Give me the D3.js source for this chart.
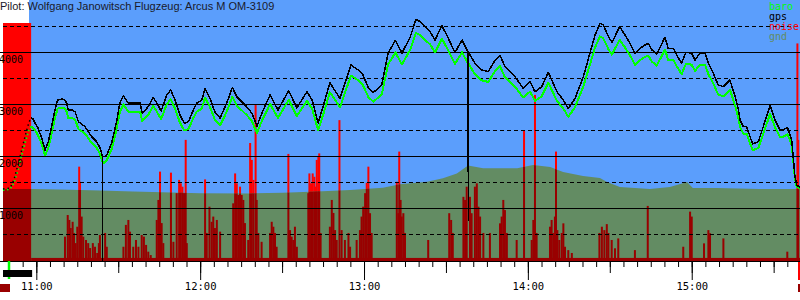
<!DOCTYPE html>
<html><head><meta charset="utf-8">
<script src="https://cdn.jsdelivr.net/npm/d3@7/dist/d3.min.js"></script>
<style>body{margin:0;background:#fff;} svg{display:block;}</style>
</head><body><svg id="c" width="800" height="300"></svg>
<script>
const title = "Pilot: Wolfgang Janowitsch Flugzeug: Arcus M OM-3109";
const legendNames = ["baro", "gps", "noise", "gnd"];
const yTicks = [1000, 2000, 3000, 4000];
const yHalfTicks = [500, 1500, 2500, 3500, 4500];
const launchT = -1.9;      // minutes after 11:00
const markerT = -10;       // 10:50 marker
const noiseFloor = 8;

// minutes after 11:00
const flightT = [-12.2,-9.6,-8.2,-6.7,-5.2,-3.8,-2.7,-1.9,
-1.2,-0.5,0.6,2.0,3.2,4.4,5.6,6.8,7.8,9.4,
10.5,11.1,11.7,13.0,14.2,15.4,17.8,20.3,22.1,23.3,
24.2,24.25,24.3,24.8,25.8,27.6,29.4,30.6,31.9,33.7,
36.1,38.0,38.8,41.0,42.8,44.1,45.7,47.8,49.2,50.8,
52.6,54.2,55.7,57.5,58.7,60.6,61.8,63.6,65.4,67.3,
69.7,71.8,73.4,75.2,77.0,78.9,80.8,82.6,85.6,88.5,
92.4,95.4,99.1,101.0,103.2,105.4,107.5,111.2,115.2,117.9,
119.6,121.6,123.4,126.5,128.8,131.5,133.9,136.9,139.0,140.5,
142.3,144.2,146.0,148.5,150.3,153.3,155.9,158.1,158.2,158.3,
160.6,163.1,165.5,168.0,169.8,171.6,175.3,178.3,180.8,182.6,
185.1,187.5,190.6,193.0,194.8,197.3,200.3,202.8,204.6,206.4,
207.6,209.5,210.8,213.6,215.6,217.4,219.2,221.1,222.9,224.1,
225.4,227.2,230.2,231.4,233.3,234.5,236.3,237.9,240.0,241.2,
243.0,244.9,246.1,247.9,249.7,251.6,254.0,255.9,257.1,257.7,
258.9,260.1,262.3,264.4,266.2,268.7,270.5,272.3,273.5,275.1,
276.6,277.2,277.8,278.5,279.6];

const gpsAlt = [1365,1385,1540,1830,2150,2440,2650,2730,
2710,2635,2540,2345,2115,2275,2565,2885,3075,3095,
3075,3020,2885,2885,2850,2660,2565,2370,2275,2155,
2000,0,1995,1985,2020,2250,2660,3020,3160,3015,
3015,3020,2820,2950,3130,3020,2865,3175,3270,3075,
2790,2630,2660,2885,3015,3075,3300,3110,2845,2730,
3015,3320,3140,3045,2950,2825,2575,2825,3175,2885,
3255,2925,3235,3075,2635,3020,3410,3105,3750,3655,
3560,3310,3220,3365,3980,4225,3980,4285,4625,4585,
4485,4390,4230,4505,4325,3990,4230,4000,770,3990,
3785,3655,3620,3845,3940,3715,3525,3300,3430,3235,
3335,3610,3240,3075,2910,3110,3525,3990,4325,4550,
4520,4295,4185,4485,4325,4165,3975,4070,4135,4165,
4040,3960,4285,4070,4070,3940,3785,3995,3975,3845,
3975,3975,3785,3590,3365,3335,3460,3140,2885,2690,
2565,2565,2230,2275,2565,2970,2690,2500,2500,2550,
2310,1960,1600,1440,1395];

const baroAlt = [1345,1365,1480,1740,2050,2320,2510,2565,
2540,2495,2405,2225,2010,2155,2430,2730,2910,2930,
2910,2855,2730,2730,2700,2520,2430,2250,2155,2045,
1900,1895,1890,1870,1915,2135,2520,2855,2990,2850,
2850,2855,2670,2790,2960,2855,2710,3000,3090,2910,
2640,2490,2520,2730,2850,2910,3125,2940,2695,2585,
2850,3140,2970,2880,2790,2675,2440,2675,3000,2730,
3080,2765,3060,2910,2495,2855,3225,2940,3545,3455,
3365,3130,3045,3180,3760,3990,3760,4045,4365,4325,
4235,4145,3995,4255,4085,3770,3995,3780,3775,3770,
3575,3455,3425,3635,3725,3515,3335,3125,3240,3060,
3150,3410,3065,2910,2755,2940,3335,3770,4085,4300,
4265,4055,3950,4235,4085,3935,3755,3845,3905,3930,
3815,3740,4045,3845,3845,3725,3575,3775,3755,3635,
3755,3755,3575,3395,3180,3150,3270,2970,2730,2550,
2430,2430,2110,2155,2430,2810,2550,2370,2370,2420,
2210,1900,1560,1400,1385];

const gndT = [-12.2,-1.9,8.7,23.3,35.4,59.9,78.3,90.3,102.8,114.9,126.9,133.2,143.1,148.9,154.0,158.1,163.6,176.1,181.9,188.2,192.9,200.2,206.4,209.0,213.7,224.7,232.0,238.3,240.4,249.2,264.9,279.65];
const gndAlt = [1365,1365,1355,1335,1315,1285,1280,1295,1315,1345,1390,1455,1505,1570,1665,1815,1765,1765,1825,1790,1690,1615,1575,1500,1405,1365,1405,1500,1385,1385,1365,1365];

const noiseT = [10.5,11.5,12.1,12.6,13.3,13.8,14.4,15.0,15.7,16.0,16.6,17.2,18.2,19.0,19.7,20.7,21.5,22.3,22.9,23.3,25.2,25.8,
31.9,32.8,33.7,34.3,35.5,36.5,37.4,38.6,39.4,40.2,41.0,41.9,
44.1,44.7,45.3,45.9,46.5,
49.3,50.2,51.4,52.3,52.9,53.5,54.1,54.7,55.1,
61.8,62.4,63.4,64.2,64.8,65.4,66.1,67.3,
72.1,72.8,73.4,74.0,74.6,75.2,75.8,76.4,77.6,
78.3,78.9,79.5,80.3,80.7,81.3,82.5,
85.6,86.2,86.8,87.4,88.0,
92.3,92.9,93.5,94.1,94.7,95.4,
99.6,100.0,100.6,101.2,101.8,102.3,102.7,103.3,103.6,104.1,
107.5,108.2,108.8,109.4,110.0,111.0,111.8,113.0,114.3,114.9,
117.3,118.5,119.1,119.7,120.4,121.0,121.6,122.2,122.8,
132.0,132.6,132.9,133.4,133.8,134.4,135.0,
143.5,151.2,151.9,152.5,
156.4,157.0,157.6,158.8,159.4,160.6,161.3,161.9,162.5,163.7,
166.1,169.8,170.4,171.0,171.6,172.3,
175.9,178.6,181.4,182.0,182.6,183.2,
188.1,188.7,189.3,189.9,190.3,190.8,191.5,192.4,193.0,193.6,194.8,196.1,
206.2,207.1,208.0,208.9,209.5,210.7,211.9,213.1,
219.2,223.9,236.9,239.4,240.0,244.5,246.1,246.7,251.6,275.0,278.7,279.0];
const noiseVal = [90,173,154,123,147,104,65,128,359,301,167,90,77,65,46,65,51,27,65,96,104,51,
51,135,154,109,51,77,51,96,90,58,32,19,
154,231,340,142,65,
336,70,257,308,295,282,257,462,65,
310,104,205,147,167,123,154,109,
218,333,295,250,282,250,231,142,77,
450,385,308,596,231,104,70,
104,147,128,104,51,
408,115,90,77,128,51,
257,333,295,333,320,282,385,397,410,104,
128,231,181,115,77,538,115,77,104,51,
77,115,167,205,257,297,359,180,104,
301,180,417,231,167,180,104,
77,180,154,104,
243,231,282,243,180,282,295,205,167,104,
104,141,167,231,192,104,
77,500,77,154,635,104,
128,154,104,167,417,115,77,104,141,51,38,27,
104,128,115,138,104,77,45,83,
38,208,51,186,167,64,115,103,83,32,833,462];

const C = {blue:"#5b9efc", red:"#ff0000", dark:"#990000", gnd:"#638c63", green:"#00ff00", black:"#000000"};

const base = new Date(2020, 0, 1, 11, 0, 0);
const toDate = m => new Date(base.getTime() + m * 60000);
const x = d3.scaleTime().domain([toDate(-12.2), toDate(279.65)]).range([3, 800]);
const y = d3.scaleLinear().domain([0, 5000]).range([260, 0]);
const yN = d3.scaleLinear().domain([0, 1000]).range([260, 0]);
const svg = d3.select("#c");
const defs = svg.append("defs");
const mono = "'DejaVu Sans Mono', monospace";

// background
svg.append("rect").attr("x", 29).attr("y", 0).attr("width", 771).attr("height", 261).attr("fill", C.blue);
// pre-launch red strip
const xl = x(toDate(launchT));
svg.append("rect").attr("x", 3).attr("y", 23).attr("width", xl - 3).attr("height", 238).attr("fill", C.red);

const noise = noiseT.map((t, i) => ({t, v: noiseVal[i]}));
function drawNoise(g, color) {
  g.selectAll("rect.n").data(noise).join("rect").attr("class", "n")
    .attr("x", d => x(toDate(d.t)) - 1).attr("width", 2)
    .attr("y", d => yN(d.v)).attr("height", d => 261 - yN(d.v)).attr("fill", color);
  g.append("rect").attr("x", xl).attr("width", 800 - xl).attr("y", yN(noiseFloor)).attr("height", 261 - yN(noiseFloor)).attr("fill", color);
}
drawNoise(svg.append("g"), C.red);

// ground
const gnd = gndT.map((t, i) => ({t, a: gndAlt[i]}));
const gArea = d3.area().x(d => x(toDate(d.t))).y0(261).y1(d => y(d.a));
svg.append("path").attr("d", gArea(gnd)).attr("fill", C.gnd);
defs.append("clipPath").attr("id", "gclip").append("path").attr("d", gArea(gnd));
const gc = svg.append("g").attr("clip-path", "url(#gclip)");
gc.append("rect").attr("x", 3).attr("y", 23).attr("width", xl - 3).attr("height", 238).attr("fill", C.dark);
drawNoise(gc, C.dark);

// grid
svg.append("g").selectAll("line").data(yTicks).join("line")
  .attr("x1", 0).attr("x2", 800).attr("y1", d => Math.round(y(d)) + 0.5).attr("y2", d => Math.round(y(d)) + 0.5)
  .attr("stroke", "#000").attr("stroke-width", 1);
svg.append("g").selectAll("line").data(yHalfTicks).join("line")
  .attr("x1", 3).attr("x2", 800).attr("y1", d => Math.round(y(d)) + 0.5).attr("y2", d => Math.round(y(d)) + 0.5)
  .attr("stroke", "#000").attr("stroke-width", 1).attr("stroke-dasharray", "4,3");

// lines
const pts = flightT.map((t, i) => ({t, g: gpsAlt[i], b: baroAlt[i]}));
const pre = pts.filter(d => d.t <= launchT), post = pts.filter(d => d.t >= launchT);
const lb = d3.line().x(d => x(toDate(d.t))).y(d => y(d.b));
const lg = d3.line().x(d => x(toDate(d.t))).y(d => y(d.g));
svg.append("path").attr("d", lb(pre)).attr("fill", "none").attr("stroke", C.green).attr("stroke-width", 2).attr("stroke-dasharray", "1.5,2.5");
svg.append("path").attr("d", lg(pre)).attr("fill", "none").attr("stroke", C.black).attr("stroke-width", 1.5).attr("stroke-dasharray", "1.5,3");
svg.append("path").attr("d", lb(post)).attr("fill", "none").attr("stroke", C.green).attr("stroke-width", 2).attr("stroke-linejoin", "round").attr("shape-rendering", "crispEdges");
svg.append("path").attr("d", lg(post)).attr("fill", "none").attr("stroke", C.black).attr("stroke-width", 1.5).attr("stroke-linejoin", "round").attr("shape-rendering", "crispEdges");

// y labels
svg.append("g").selectAll("text").data(yTicks).join("text")
  .attr("x", -1).attr("y", d => y(d) + 11).text(d => d)
  .attr("font-family", mono).attr("font-size", 10).attr("fill", "#000");

// x axis
const axG = svg.append("g").attr("transform", "translate(0,261)");
const a5 = d3.axisBottom(x).ticks(d3.timeMinute.every(5)).tickSize(6).tickFormat("");
const a30 = d3.axisBottom(x).ticks(d3.timeMinute.every(30)).tickSize(12).tickFormat("");
const a60 = d3.axisBottom(x).ticks(d3.timeHour.every(1)).tickSize(19).tickPadding(3).tickFormat(d3.timeFormat("%H:%M"));
[a5, a30, a60].forEach(a => {
  const g = axG.append("g").call(a);
  g.select(".domain").remove();
  g.selectAll("line").attr("stroke", "#000");
  g.selectAll("text").attr("font-family", mono).attr("font-size", 10.5).attr("fill", "#000");
});
svg.append("line").attr("x1", 0).attr("x2", 800).attr("y1", 261.5).attr("y2", 261.5).attr("stroke", "#000");

// markers
svg.append("line").attr("x1", x(toDate(markerT))).attr("x2", x(toDate(markerT))).attr("y1", 261).attr("y2", 279).attr("stroke", C.green).attr("stroke-width", 2.5);
svg.append("rect").attr("x", 3).attr("y", 270).attr("width", xl - 2).attr("height", 7).attr("fill", "#000");
svg.append("rect").attr("x", 0).attr("y", 284).attr("width", 10).attr("height", 8).attr("fill", C.dark);
svg.append("rect").attr("x", 798).attr("y", 262).attr("width", 2).attr("height", 18).attr("fill", C.red);
svg.append("rect").attr("x", 798).attr("y", 284).attr("width", 2).attr("height", 8).attr("fill", C.dark);

// legend
const lc = [C.green, C.black, C.red, C.gnd];
svg.append("g").selectAll("text").data(legendNames).join("text")
  .attr("x", 769).attr("y", (d, i) => 10 + i * 10).text(d => d)
  .attr("font-family", mono).attr("font-size", 10).attr("fill", (d, i) => lc[i]);

// title
svg.append("text").attr("x", 0).attr("y", 10).text(title)
  .attr("font-family", "'Liberation Sans', Arial, sans-serif").attr("font-size", 11).attr("fill", "#1a1a2a");
</script></body></html>
